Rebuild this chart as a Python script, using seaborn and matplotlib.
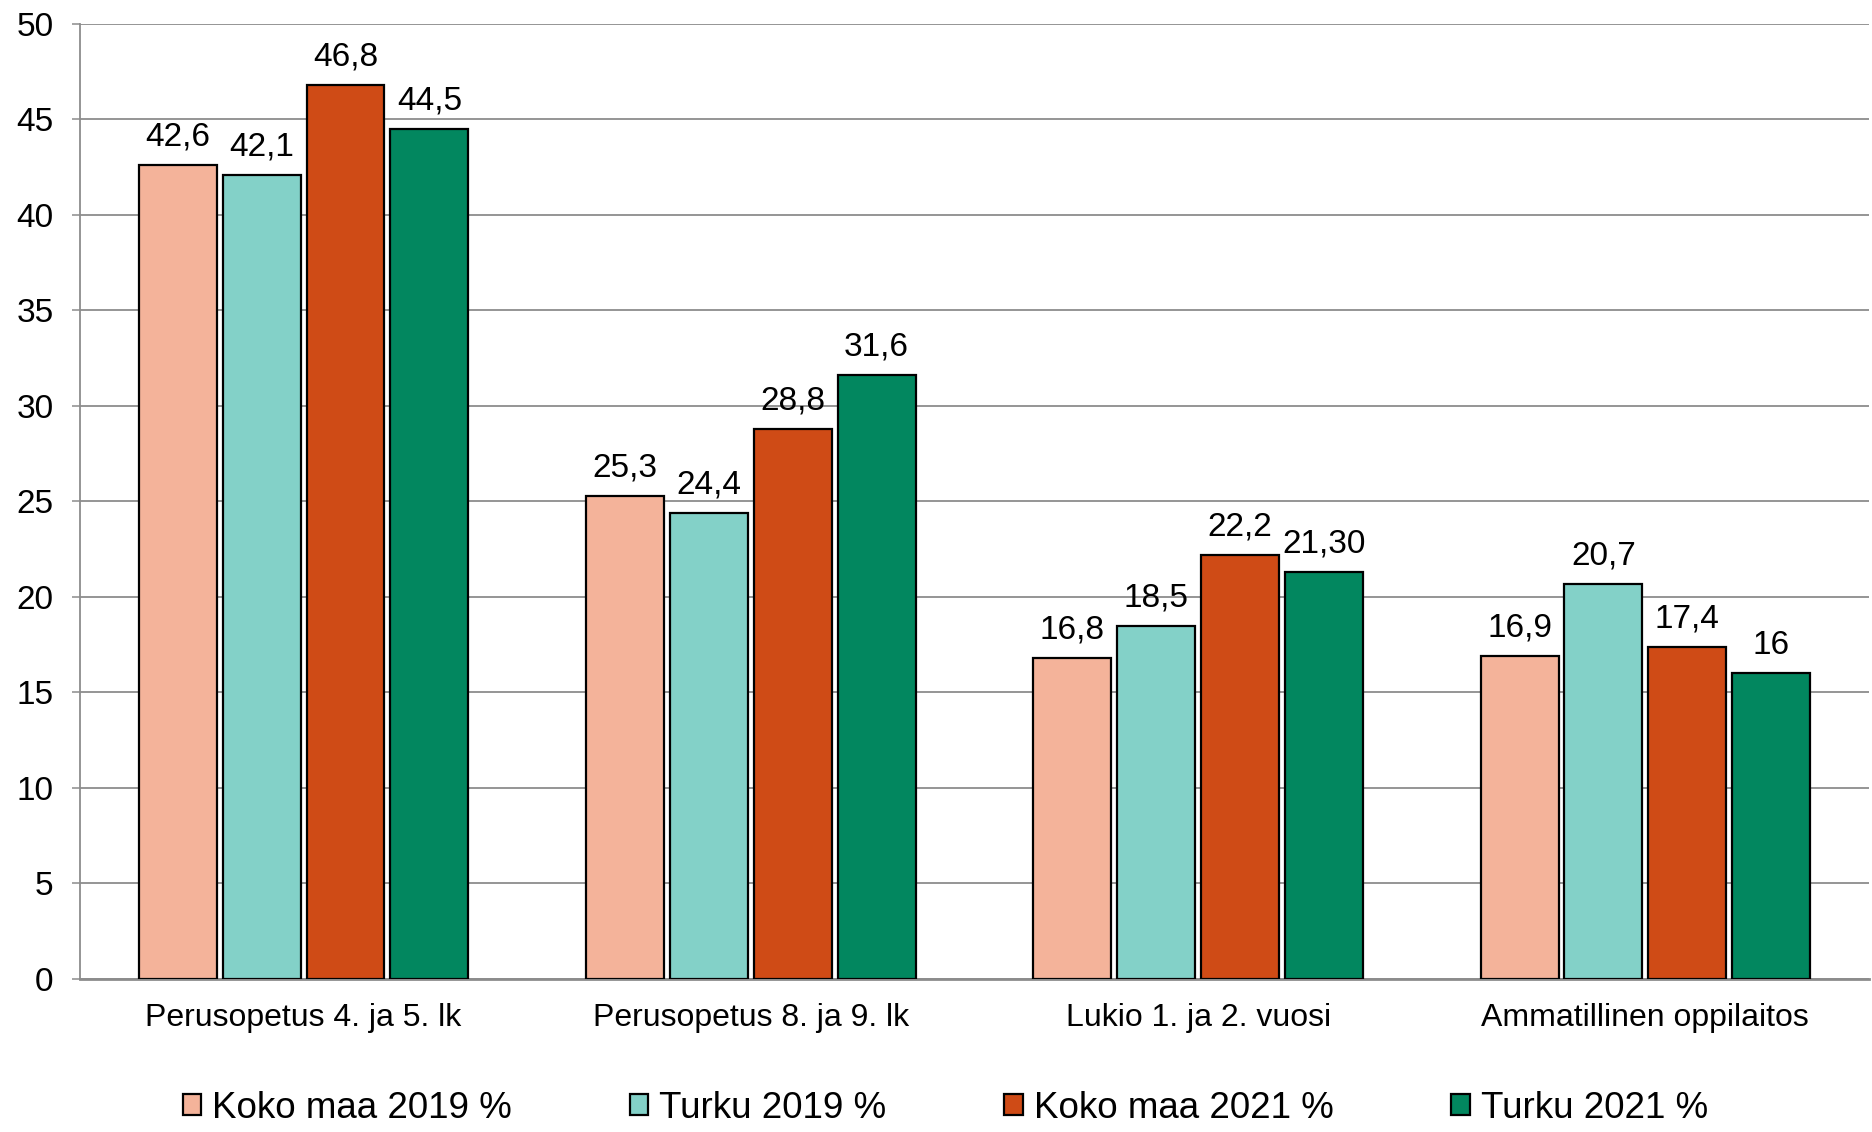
import matplotlib
matplotlib.use("Agg")
import matplotlib.pyplot as plt
import seaborn as sns
import pandas as pd

categories = ["Perusopetus 4. ja 5. lk", "Perusopetus 8. ja 9. lk",
              "Lukio 1. ja 2. vuosi", "Ammatillinen oppilaitos"]
series = ["Koko maa 2019 %", "Turku 2019 %", "Koko maa 2021 %", "Turku 2021 %"]
koko_2019 = [42.6, 25.3, 16.8, 16.9]
turku_2019 = [42.1, 24.4, 18.5, 20.7]
koko_2021 = [46.8, 28.8, 22.2, 17.4]
turku_2021 = [44.5, 31.6, 21.3, 16.0]
# labels as printed on the chart (finnish decimal comma)
labels_koko_2019 = ["42,6", "25,3", "16,8", "16,9"]
labels_turku_2019 = ["42,1", "24,4", "18,5", "20,7"]
labels_koko_2021 = ["46,8", "28,8", "22,2", "17,4"]
labels_turku_2021 = ["44,5", "31,6", "21,30", "16"]
colors = ["#F4B39A", "#83D1C8", "#CF4B16", "#02875F"]

values = [koko_2019, turku_2019, koko_2021, turku_2021]
labels = [labels_koko_2019, labels_turku_2019, labels_koko_2021, labels_turku_2021]

df = pd.DataFrame({
    "kategoria": [c for _ in series for c in categories],
    "sarja": [s for s in series for _ in categories],
    "arvo": [v for vals in values for v in vals],
})

sns.set_style("white")
plt.rcParams["font.family"] = ["Liberation Sans", "DejaVu Sans"]
plt.rcParams["text.color"] = "black"

fig = plt.figure(figsize=(18.72, 11.32), dpi=100)
ax = fig.add_axes([0.0427, 0.1352, 0.9557, 0.8436])

sns.barplot(data=df, x="kategoria", y="arvo", hue="sarja", order=categories,
            hue_order=series, palette=colors, width=0.75, gap=0.07,
            edgecolor="black", linewidth=1.6, saturation=1, ax=ax, zorder=3)

for cont, lab in zip(ax.containers, labels):
    ax.bar_label(cont, labels=lab, padding=9, fontsize=24, color="black")

handles, leg_labels = ax.get_legend_handles_labels()
ax.get_legend().remove()
fig.legend(handles, leg_labels, loc="center", bbox_to_anchor=(0.505, 0.021),
           ncol=4, frameon=False, fontsize=26.5, handlelength=0.5, handleheight=0.5,
           handletextpad=0.3, columnspacing=3.2, borderpad=0, labelcolor="black")

ax.set_ylim(0, 50)
ax.set_xlim(-0.5, 3.5)
ax.set_yticks(range(0, 51, 5))
ax.set_xlabel("")
ax.set_ylabel("")
ax.yaxis.grid(True, color="#8c8c8c", linewidth=1.3, zorder=0)
ax.set_axisbelow(True)

ax.set_xticks([-0.5, 0.5, 1.5, 2.5, 3.5], minor=True)
ax.tick_params(axis="x", which="major", length=0, pad=17, labelsize=23, colors="black")
ax.tick_params(axis="x", which="minor", length=7, width=1.1, color="#8c8c8c")
ax.tick_params(axis="y", length=6, width=1.1, color="#8c8c8c", pad=13, labelsize=24,
               labelcolor="black", left=True)

for side in ["top", "right"]:
    ax.spines[side].set_visible(False)
for side in ["left", "bottom"]:
    ax.spines[side].set_color("#8c8c8c")
    ax.spines[side].set_linewidth(1.3)
ax.spines["bottom"].set_linewidth(2)

fig.savefig("out.png", dpi=100)
